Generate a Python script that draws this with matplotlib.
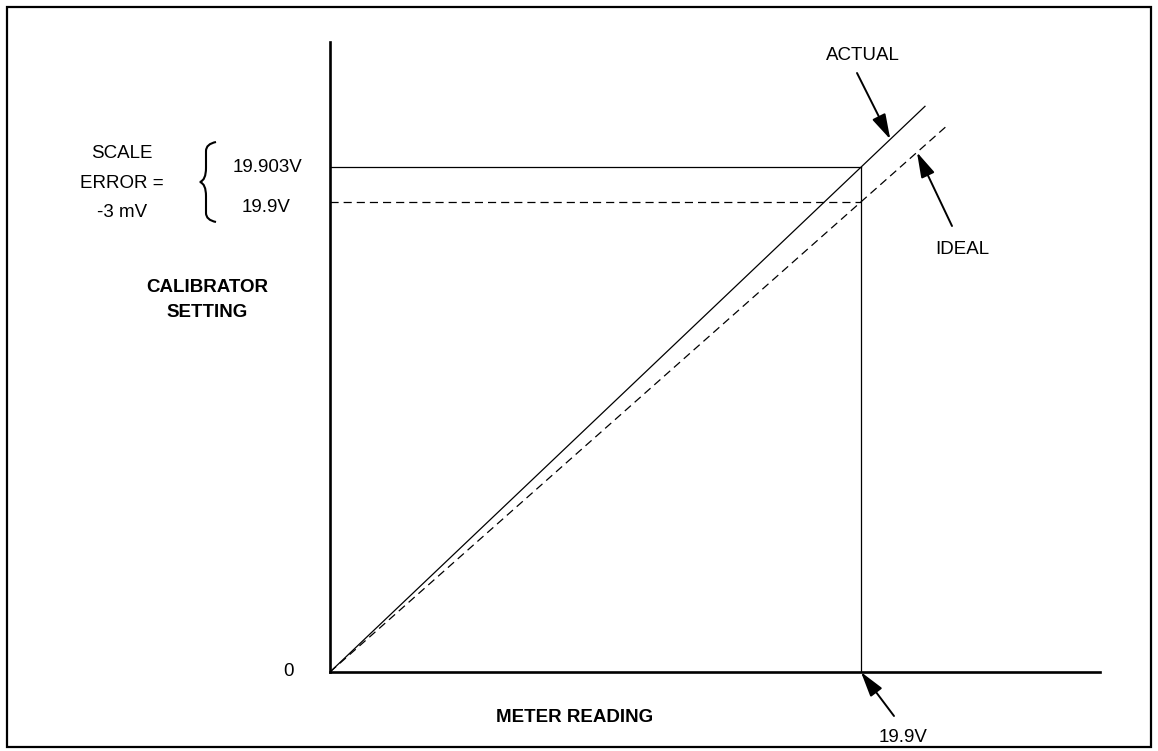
import matplotlib
matplotlib.use("Agg")
import matplotlib.pyplot as plt
from matplotlib.path import Path
from matplotlib.patches import PathPatch, Rectangle

# ---- data ----
meter_reading_v = 19.9          # meter reading at the check point
ideal_setting_v = 19.9          # ideal calibrator setting
actual_setting_v = 19.903       # actual calibrator setting
scale_error_label = "-3 mV"
line_labels = ["ACTUAL", "IDEAL"]
axis_labels = ["CALIBRATOR\nSETTING", "METER READING"]
value_labels = ["19.903V", "19.9V"]

# ---- layout / style ----
EXAG = 490.0                    # schematic exaggeration of the error
X_MAX, Y_MAX = 28.86, 26.67
ACTUAL_END, IDEAL_END = 22.3, 23.2
W, H = 1158, 751

plt.rcParams['font.family'] = ['Liberation Sans', 'DejaVu Sans']
fig = plt.figure(figsize=(W / 100, H / 100), dpi=100)


def fx(x):
    return x / W


def fy(y):
    return 1 - y / H


ax = fig.add_axes([fx(330), fy(672), 770 / W, 630 / H])
ax.set_xlim(0, X_MAX)
ax.set_ylim(0, Y_MAX)
ax.patch.set_visible(False)
for s in ['top', 'right']:
    ax.spines[s].set_visible(False)
for s in ['left', 'bottom']:
    ax.spines[s].set_linewidth(1.9)
ax.set_xticks([])
ax.set_yticks([])

k = actual_setting_v / ideal_setting_v


def plot_y(m, gain):
    # schematic: ideal value plus exaggerated deviation
    return m + (m * gain - m) * EXAG


DASH = (6.5, 4)
# ideal and actual lines
ax.plot([0, IDEAL_END], [plot_y(0, 1.0), plot_y(IDEAL_END, 1.0)],
        color='k', lw=0.9, dashes=DASH)
ax.plot([0, ACTUAL_END], [plot_y(0, k), plot_y(ACTUAL_END, k)],
        color='k', lw=0.9)

y_act = plot_y(meter_reading_v, k)
y_ide = plot_y(meter_reading_v, 1.0)
ax.plot([0, meter_reading_v], [y_act, y_act], color='k', lw=0.9)
ax.plot([0, meter_reading_v], [y_ide, y_ide], color='k', lw=0.9, dashes=DASH)
ax.plot([meter_reading_v, meter_reading_v], [0, y_act], color='k', lw=0.9)

arrow = dict(arrowstyle='-|>,head_length=0.7,head_width=0.2', color='k',
             lw=1.4, mutation_scale=22, shrinkA=0, shrinkB=0)

# ACTUAL arrow
m_a = 21.0
ax.annotate('', xy=(m_a, plot_y(m_a, k)), xytext=(857, H - 73),
            textcoords='figure pixels', arrowprops=arrow, annotation_clip=False)
# IDEAL arrow
m_i = 22.0
ax.annotate('', xy=(m_i, plot_y(m_i, 1.0)), xytext=(952, H - 226),
            textcoords='figure pixels', arrowprops=arrow, annotation_clip=False)
# 19.9V arrow
ax.annotate('', xy=(meter_reading_v, 0), xytext=(894, H - 716),
            textcoords='figure pixels', arrowprops=arrow, annotation_clip=False)

fs = 13.5
fig.text(fx(863), fy(55), line_labels[0], ha='center', va='center', fontsize=fs)
fig.text(fx(962), fy(249), line_labels[1], ha='center', va='center', fontsize=fs)
fig.text(fx(207), fy(300), axis_labels[0], ha='center', va='center', fontsize=fs,
         fontweight='bold', linespacing=1.65)
fig.text(fx(575), fy(717), axis_labels[1], ha='center', va='center', fontsize=fs,
         fontweight='bold')
fig.text(fx(288), fy(672), "0", ha='center', va='center', fontsize=fs)
fig.text(fx(903), fy(737), f"{meter_reading_v}V", ha='center', va='center', fontsize=fs)
fig.text(fx(122), fy(183), f"SCALE\nERROR =\n{scale_error_label}", ha='center',
         va='center', fontsize=fs, linespacing=1.95)
fig.text(fx(267), fy(168), value_labels[0], ha='center', va='center', fontsize=fs)
fig.text(fx(266), fy(207), value_labels[1], ha='center', va='center', fontsize=fs)

# curly brace
bx, top, mid, bot = 216, 142, 182, 222
pts = [(bx, top), (bx - 10, top + 2), (bx - 10, top + 9), (bx - 10, top + 15),
       (bx - 10, mid - 14), (bx - 10, mid - 2), (bx - 16, mid),
       (bx - 10, mid + 2), (bx - 10, mid + 14),
       (bx - 10, bot - 15), (bx - 10, bot - 9), (bx - 10, bot - 2), (bx, bot)]
verts = [(fx(x), fy(y)) for x, y in pts]
codes = [Path.MOVETO, Path.CURVE3, Path.CURVE3, Path.LINETO,
         Path.LINETO, Path.CURVE3, Path.CURVE3, Path.CURVE3, Path.CURVE3,
         Path.LINETO, Path.LINETO, Path.CURVE3, Path.CURVE3]
fig.patches.append(PathPatch(Path(verts, codes), transform=fig.transFigure,
                             fill=False, lw=1.5, color='k'))

# frame border
fig.patches.append(Rectangle((fx(7), fy(747)), (1151 - 7) / W, (747 - 7) / H,
                             transform=fig.transFigure, fill=False, lw=1.6,
                             edgecolor='k'))

fig.savefig("out.png", dpi=100)
